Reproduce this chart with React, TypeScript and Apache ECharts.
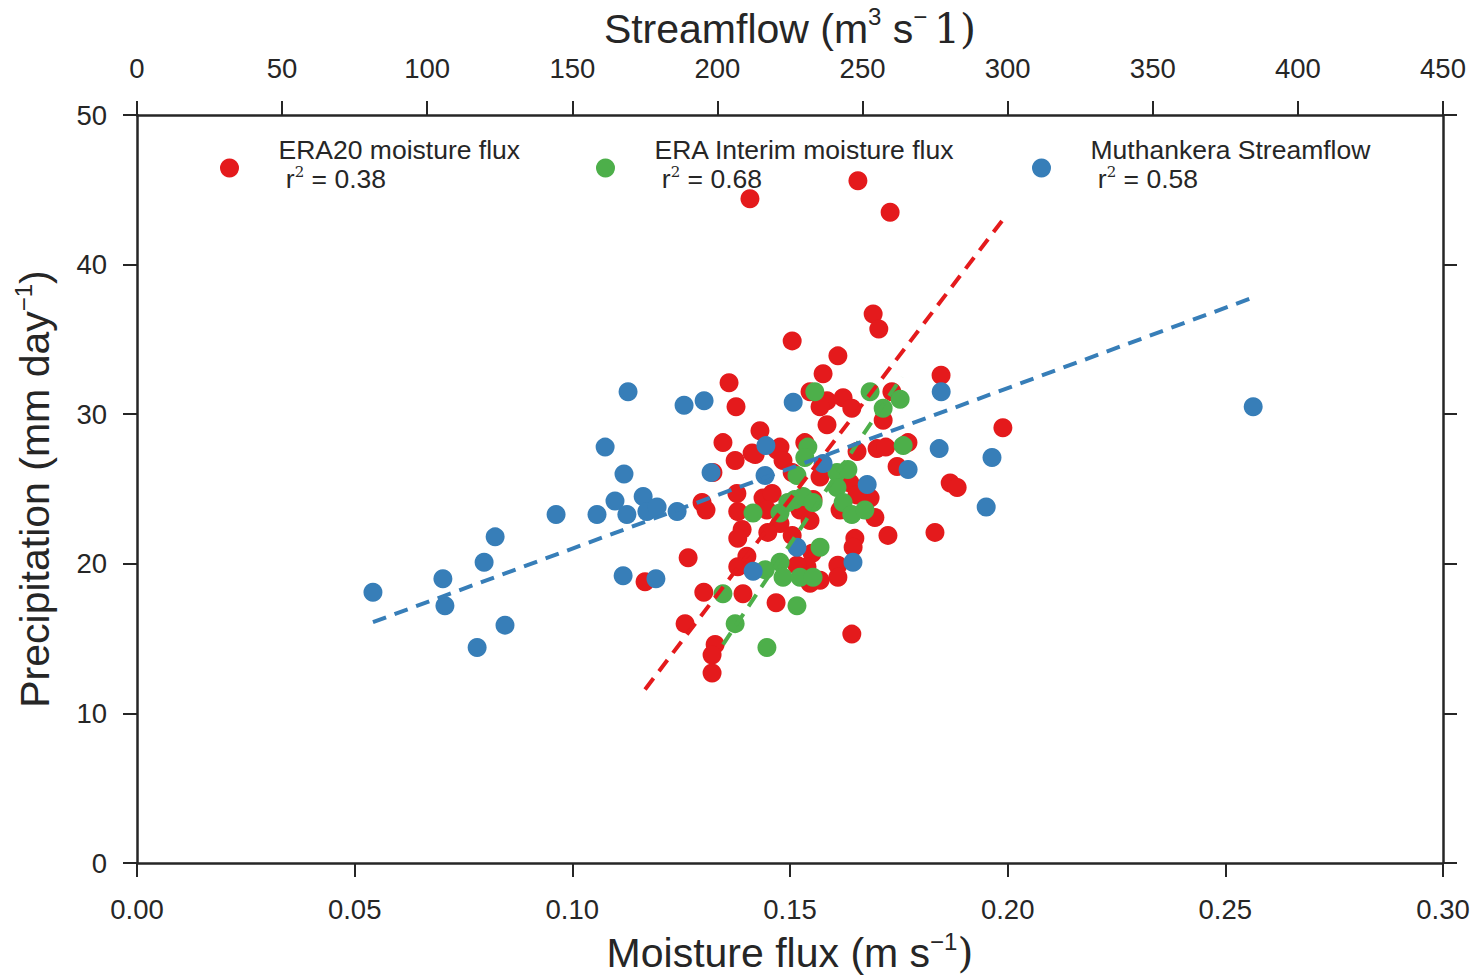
import React, { useEffect, useRef } from "react";
import * as echarts from "echarts";

// ERA20 moisture flux (m s^-1) vs precipitation (mm day^-1)
const era20Points: [number, number][] = [
  [0.1408, 44.4], [0.1656, 45.6], [0.173, 43.5], [0.1691, 36.7], [0.1704, 35.7],
  [0.1505, 34.9], [0.161, 33.9], [0.1576, 32.7], [0.136, 32.1], [0.1847, 32.6],
  [0.1376, 30.5], [0.1546, 31.5], [0.1585, 30.9], [0.1622, 31.1], [0.1642, 30.4],
  [0.1569, 30.5], [0.1585, 29.3], [0.1734, 31.5], [0.1714, 29.6], [0.1431, 28.9],
  [0.1346, 28.1], [0.1771, 28.1], [0.17, 27.7], [0.172, 27.8], [0.1654, 27.5],
  [0.1477, 27.8], [0.1534, 28.1], [0.1413, 27.4], [0.1374, 26.9], [0.147, 27.6],
  [0.1484, 26.9], [0.1323, 26.1], [0.1505, 26.1], [0.1569, 25.8], [0.1638, 25.4],
  [0.1684, 24.4], [0.1746, 26.5], [0.1868, 25.4], [0.1884, 25.1], [0.1989, 29.1],
  [0.1298, 24.1], [0.1307, 23.6], [0.1378, 24.7], [0.138, 23.5], [0.1438, 24.4],
  [0.1459, 24.7], [0.1447, 23.6], [0.1523, 23.6], [0.1546, 22.9], [0.1477, 22.7],
  [0.1449, 22.1], [0.139, 22.3], [0.138, 21.7], [0.1505, 21.9], [0.1615, 23.6],
  [0.1695, 23.1], [0.1654, 24.6], [0.1649, 21.7], [0.1645, 21.1], [0.1725, 21.9],
  [0.1833, 22.1], [0.1266, 20.4], [0.1401, 20.5], [0.138, 19.8], [0.1551, 20.7],
  [0.1539, 19.8], [0.161, 19.9], [0.1516, 19.9], [0.1569, 18.9], [0.161, 19.1],
  [0.1546, 18.7], [0.1167, 18.8], [0.1302, 18.1], [0.1392, 18.0], [0.1468, 17.4],
  [0.1259, 16.0], [0.1328, 14.6], [0.1321, 13.9], [0.1321, 12.7], [0.1642, 15.3],
  [0.1553, 24.3], [0.142, 27.3],
];

// ERA Interim moisture flux (m s^-1) vs precipitation (mm day^-1)
const eraInterimPoints: [number, number][] = [
  [0.1557, 31.5], [0.1684, 31.5], [0.1714, 30.4], [0.1753, 31.0], [0.1541, 27.8],
  [0.1534, 27.1], [0.176, 27.9], [0.1516, 25.9], [0.1608, 26.1], [0.1633, 26.3],
  [0.1608, 25.1], [0.1415, 23.4], [0.1477, 23.4], [0.1495, 24.1], [0.1511, 24.3],
  [0.153, 24.5], [0.1553, 24.1], [0.1622, 24.1], [0.1642, 23.3], [0.1672, 23.6],
  [0.1569, 21.1], [0.1477, 20.1], [0.1443, 19.6], [0.1484, 19.1], [0.1523, 19.1],
  [0.1553, 19.1], [0.1346, 18.0], [0.1516, 17.2], [0.1374, 16.0], [0.1447, 14.4],
];

// Muthankera streamflow (m^3 s^-1) vs precipitation (mm day^-1)
const streamflowPoints: [number, number][] = [
  [81.3, 18.1], [105.4, 19.0], [106.1, 17.2], [117.2, 14.4], [119.6, 20.1],
  [123.4, 21.8], [126.8, 15.9], [144.4, 23.3], [158.5, 23.3], [161.3, 27.8],
  [164.7, 24.2], [167.8, 26.0], [169.2, 31.5], [168.8, 23.3], [167.5, 19.2],
  [174.4, 24.5], [175.7, 23.5], [179.2, 23.8], [178.8, 19.0], [186.1, 23.5],
  [188.5, 30.6], [195.4, 30.9], [197.8, 26.1], [212.3, 19.5], [216.7, 27.9],
  [216.4, 25.9], [226.1, 30.8], [227.4, 21.1], [236.4, 26.7], [246.7, 20.1],
  [251.6, 25.3], [265.7, 26.3], [276.4, 27.7], [277.1, 31.5], [292.6, 23.8],
  [294.6, 27.1], [384.6, 30.5],
];

// regression line end points
const era20Fit: [number, number][] = [[0.1167, 11.6], [0.1989, 43.0]];
const eraInterimFit: [number, number][] = [[0.1346, 14.6], [0.1757, 32.5]];
const streamflowFit: [number, number][] = [[81.3, 16.1], [384.6, 37.8]];

const seriesNames = ["ERA20 moisture flux", "ERA Interim moisture flux", "Muthankera Streamflow"];
const rSquared = ["0.38", "0.68", "0.58"];
const colors = ["#e41a1c", "#4daf4a", "#377eb8"];

const FONT = "'Liberation Sans', Arial, sans-serif";
const INK = "#262626";

export default function App() {
  const ref = useRef<HTMLDivElement>(null);
  useEffect(() => {
    if (!ref.current) return;
    const chart = echarts.init(ref.current, null, { renderer: "svg" });

    const axisLine = { show: true, onZero: false, lineStyle: { color: INK, width: 2.5 } };
    const axisTick = { show: true, inside: false, length: 14, lineStyle: { color: INK, width: 2 } };
    const labelStyle = { color: INK, fontSize: 27.5, fontFamily: FONT };
    const nameRich = {
      a: { fontSize: 41, fontFamily: FONT, color: INK, lineHeight: 48 },
      s: { fontSize: 24, fontFamily: FONT, color: INK, verticalAlign: "top", lineHeight: 30 },
      b: { fontSize: 41, fontFamily: "'DejaVu Serif', serif", color: INK, lineHeight: 48 },
    };

    const legendRich = {
      a: { fontSize: 26.5, fontFamily: FONT, color: INK, lineHeight: 29 },
      s: { fontSize: 15, fontFamily: "'DejaVu Serif', serif", color: INK, lineHeight: 29, verticalAlign: "top" },
      e: { fontSize: 2, lineHeight: 8, color: "rgba(0,0,0,0)" },
    };
    const legendLefts = [220, 596, 1032];

    const scatterData = [era20Points, eraInterimPoints, streamflowPoints];
    const fits = [era20Fit, eraInterimFit, streamflowFit];

    const series: any[] = [];
    scatterData.forEach((pts, i) => {
      series.push({
        name: seriesNames[i],
        type: "scatter",
        xAxisIndex: i === 2 ? 1 : 0,
        yAxisIndex: 0,
        data: pts,
        symbol: "circle",
        symbolSize: 19,
        itemStyle: { color: colors[i], opacity: 1 },
        z: 2 + i,
      });
    });
    fits.forEach((pts, i) => {
      series.push({
        name: seriesNames[i] + " fit",
        type: "line",
        xAxisIndex: i === 2 ? 1 : 0,
        yAxisIndex: 0,
        data: pts,
        symbol: "none",
        lineStyle: { color: colors[i], width: 4, type: [14, 9] },
        z: 10 + i,
      });
    });

    chart.setOption({
      animation: false,
      backgroundColor: "#ffffff",
      grid: { left: 137, right: 27, top: 115, bottom: 114, containLabel: false, outerBoundsMode: "none" },
      legend: seriesNames.map((n, i) => ({
        data: [n],
        left: legendLefts[i],
        top: 136,
        orient: "horizontal",
        icon: "circle",
        itemWidth: 88,
        itemHeight: 19,
        padding: 0,
        selectedMode: false,
        formatter: () => `{a|${n}}\n{a| r}{s|2}{a| = ${rSquared[i]}}\n{e|.}`,
        textStyle: { rich: legendRich, fontSize: 26.5, fontFamily: FONT, color: INK },
      })),
      xAxis: [
        {
          type: "value",
          position: "bottom",
          min: 0,
          max: 0.3,
          interval: 0.05,
          axisLine,
          axisTick,
          splitLine: { show: false },
          axisLabel: { ...labelStyle, margin: 32, formatter: (v: number) => v.toFixed(2) },
          name: "{a|Moisture flux (m s}{s|−1}{b|)}",
          nameLocation: "middle",
          nameGap: 66,
          nameTextStyle: { rich: nameRich },
        },
        {
          type: "value",
          position: "top",
          min: 0,
          max: 450,
          interval: 50,
          axisLine,
          axisTick,
          splitLine: { show: false },
          axisLabel: { ...labelStyle, margin: 33 },
          name: "{a|Streamflow (m}{s|3}{a| s}{s|− }{b|1)}",
          nameLocation: "middle",
          nameGap: 61,
          nameTextStyle: { rich: nameRich },
        },
      ],
      yAxis: [
        {
          type: "value",
          position: "left",
          min: 0,
          max: 50,
          interval: 10,
          axisLine,
          axisTick,
          splitLine: { show: false },
          axisLabel: { ...labelStyle, margin: 30 },
          name: "{a|Precipitation (mm day}{s|−1}{a|)}",
          nameLocation: "middle",
          nameGap: 78,
          nameRotate: 90,
          nameTextStyle: { rich: nameRich },
        },
        {
          type: "value",
          position: "right",
          min: 0,
          max: 50,
          interval: 10,
          axisLine,
          axisTick,
          splitLine: { show: false },
          axisLabel: { show: false },
        },
      ],
      series,
    });

    return () => chart.dispose();
  }, []);

  return (
    <div
      ref={ref}
      style={{ position: "fixed", left: 0, top: 0, width: 1470, height: 977, background: "#fff" }}
    />
  );
}
